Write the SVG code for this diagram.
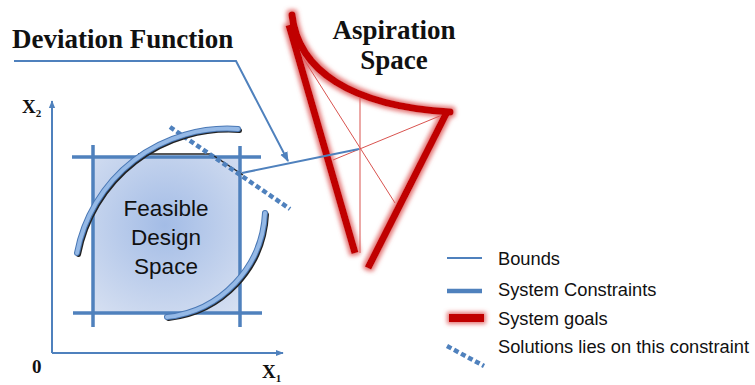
<svg xmlns="http://www.w3.org/2000/svg" width="755" height="385" viewBox="0 0 755 385">
<defs>
<style>
.title{font-family:"Liberation Serif",serif;font-weight:bold;font-size:27px;fill:#111}
.axl{font-family:"Liberation Serif",serif;font-weight:bold;font-size:19px;fill:#111}
.lbl{font-family:"Liberation Sans",sans-serif;font-size:22.5px;fill:#111}
.leg{font-family:"Liberation Sans",sans-serif;font-size:18.3px;fill:#111}
.bound{stroke:#4f81bd;stroke-width:2;fill:none}
.cons{stroke:#4f81bd;stroke-width:3.5;fill:none}
.goal{stroke:#c00000;stroke-width:7;fill:none}
.thin{stroke:#d9534f;stroke-width:1;fill:none}
.dots{stroke:#4f81bd;stroke-width:4.5;stroke-dasharray:5 3;fill:none}
.arcsh{stroke:#222;stroke-width:5;fill:none;stroke-linecap:round}
.arco{stroke:#4a78b5;stroke-width:6;fill:none;stroke-linecap:round}
.arcf{stroke:#95b9e6;stroke-width:4;fill:none;stroke-linecap:round}
</style>
<radialGradient id="fill" cx="165" cy="225" r="110" gradientUnits="userSpaceOnUse">
<stop offset="0" stop-color="#a3bce6"/>
<stop offset="1" stop-color="#d5dff1"/>
</radialGradient>
<filter id="glow" filterUnits="userSpaceOnUse" x="0" y="0" width="755" height="385">
<feMorphology in="SourceAlpha" operator="dilate" radius="1.5" result="d"/>
<feGaussianBlur in="d" stdDeviation="2" result="b"/>
<feFlood flood-color="#e06060" flood-opacity="0.85"/>
<feComposite in2="b" operator="in" result="g"/>
<feMerge><feMergeNode in="g"/><feMergeNode in="SourceGraphic"/></feMerge>
</filter>
<marker id="ah" viewBox="0 0 10 10" refX="9" refY="5" markerWidth="5" markerHeight="5" orient="auto" markerUnits="strokeWidth">
<path d="M0,1 L10,5 L0,9 z" fill="#4f81bd"/>
</marker>
<marker id="ah2" viewBox="0 0 10 10" refX="9" refY="5" markerWidth="4" markerHeight="5" orient="auto" markerUnits="strokeWidth">
<path d="M0,1 L10,5 L0,9 z" fill="#4f81bd"/>
</marker>
</defs>

<g id="title">
<text class="title" x="12" y="48">Deviation Function</text>
</g>

<g id="axes">
<line class="bound" x1="52" y1="353" x2="52" y2="101" marker-end="url(#ah2)"/>
<line class="bound" x1="52" y1="353" x2="283" y2="353" marker-end="url(#ah2)"/>
<text class="axl" x="22" y="113">X<tspan font-size="11" dy="4">2</tspan></text>
<text class="axl" x="262" y="378">X<tspan font-size="11" dy="4">1</tspan></text>
<text class="axl" x="32" y="373" font-size="15">0</text>
</g>

<g id="feasible">
<rect x="93" y="157" width="147" height="156" fill="url(#fill)"/>
<line class="cons" x1="72" y1="157" x2="261" y2="157"/>
<line class="cons" x1="73" y1="313" x2="262" y2="313"/>
<line class="cons" x1="93" y1="145" x2="93" y2="327"/>
<line class="cons" x1="240" y1="146" x2="240" y2="327"/>
<path d="M138,154 L211,154 L243,175" stroke="#222" stroke-width="1.4" fill="none"/>
<line class="dots" x1="170" y1="127" x2="290" y2="209"/>
<text class="lbl" text-anchor="middle" x="166" y="216">Feasible</text>
<text class="lbl" text-anchor="middle" x="166" y="245">Design</text>
<text class="lbl" text-anchor="middle" x="166" y="274">Space</text>
</g>

<g id="arcs">
<path class="arcsh" d="M78.5,254.5 A153,153 0 0 1 239.5,130.5"/>
<path class="arco" d="M77,253 A153,153 0 0 1 238,129"/>
<path class="arcf" d="M77,253 A153,153 0 0 1 238,129"/>
<path class="arcsh" d="M168.5,318.5 A110,110 0 0 0 266.5,214.5"/>
<path class="arco" d="M167,317 A110,110 0 0 0 265,213"/>
<path class="arcf" d="M167,317 A110,110 0 0 0 265,213"/>
</g>

<g id="aspiration">
<line class="thin" x1="298" y1="50" x2="395" y2="203"/>
<line class="thin" x1="360" y1="98" x2="360" y2="253"/>
<line class="thin" x1="447" y1="113" x2="333" y2="160"/>
<g filter="url(#glow)">
<path class="goal" d="M292,15 C298,70 350,106 450,112" stroke-linecap="round"/>
<line class="goal" x1="289" y1="25" x2="355" y2="253"/>
<line class="goal" x1="447" y1="112" x2="368" y2="268"/>
</g>
<text class="title" text-anchor="middle" x="394" y="39" font-size="26.5">Aspiration</text>
<text class="title" text-anchor="middle" x="394" y="69" font-size="26.5">Space</text>
</g>

<g id="connectors">
<polyline class="bound" points="14,61 236,61 288,161" marker-end="url(#ah)"/>
<line class="bound" x1="242" y1="173" x2="359" y2="149"/>
</g>

<g id="legend">
<line class="bound" x1="447" y1="258" x2="482" y2="258"/>
<text class="leg" x="498" y="265">Bounds</text>
<line stroke="#4f81bd" stroke-width="4.5" x1="447" y1="291" x2="482" y2="291"/>
<text class="leg" x="498" y="296">System Constraints</text>
<g filter="url(#glow)"><line stroke="#c00000" stroke-width="8" x1="449" y1="318" x2="484" y2="318"/></g>
<text class="leg" x="498" y="325">System goals</text>
<line class="dots" stroke-width="3.5" stroke-dasharray="4 2.5" x1="447" y1="346" x2="484" y2="366"/>
<text class="leg" x="498" y="353">Solutions lies on this constraint</text>
</g>
</svg>
